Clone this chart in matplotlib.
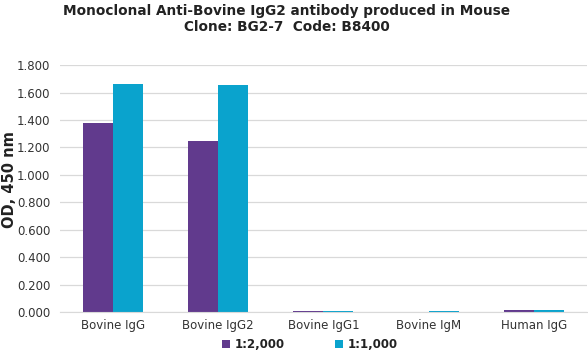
import numpy as np
import matplotlib.pyplot as plt

categories = ['Bovine IgG', 'Bovine IgG2', 'Bovine IgG1', 'Bovine IgM', 'Human IgG']
dil_2000 = [1.375, 1.246, 0.005, -0.005, 0.015]
dil_1000 = [1.662, 1.655, 0.010, 0.008, 0.015]
series_names = ['1:2,000', '1:1,000']
yticks = [0.0, 0.2, 0.4, 0.6, 0.8, 1.0, 1.2, 1.4, 1.6, 1.8]

purple = '#613A8D'
cyan = '#0AA3CD'

fig = plt.figure(figsize=(5.88, 3.6), dpi=100)
ax = fig.add_axes([0.102, 0.133, 0.896, 0.686])

x = np.arange(len(categories))
w = 0.285
ax.bar(x - w / 2, dil_2000, w, color=purple, label=series_names[0], zorder=3)
ax.bar(x + w / 2, dil_1000, w, color=cyan, label=series_names[1], zorder=3)

ax.set_xlim(-0.5, len(categories) - 0.5)
ax.set_ylim(0, 1.8)
ax.set_yticks(yticks)
ax.set_yticklabels([f'{v:.3f}' for v in yticks])
ax.set_xticks(x)
ax.set_xticklabels(categories)
ax.tick_params(axis='both', length=0, labelsize=8.5, colors='#333333', pad=7)
ax.tick_params(axis='x', pad=5)
ax.grid(axis='y', color='#D9D9D9', linewidth=0.9, zorder=0)
for s in ['top', 'right', 'left']:
    ax.spines[s].set_visible(False)
ax.spines['bottom'].set_color('#D9D9D9')
ax.spines['bottom'].set_zorder(4)

# y label placed by hand so it stays inside the figure
fig.text(0.016, 0.5, 'OD, 450 nm', rotation=90, ha='center', va='center',
         fontsize=10.5, fontweight='bold', color='#222222')

fig.text(0.488, 0.99, 'Monoclonal Anti-Bovine IgG2 antibody produced in Mouse\nClone: BG2-7  Code: B8400',
         ha='center', va='top', fontsize=9.8, fontweight='bold', color='#222222', linespacing=1.25)

leg = fig.legend(loc='lower center', bbox_to_anchor=(0.527, -0.005), ncol=2, frameon=False,
                 handlelength=0.7, handleheight=0.7, columnspacing=4.2, handletextpad=0.4,
                 prop={'size': 8.5, 'weight': 'bold'})
for t in leg.get_texts():
    t.set_color('#222222')

fig.savefig('out.png', dpi=100)
